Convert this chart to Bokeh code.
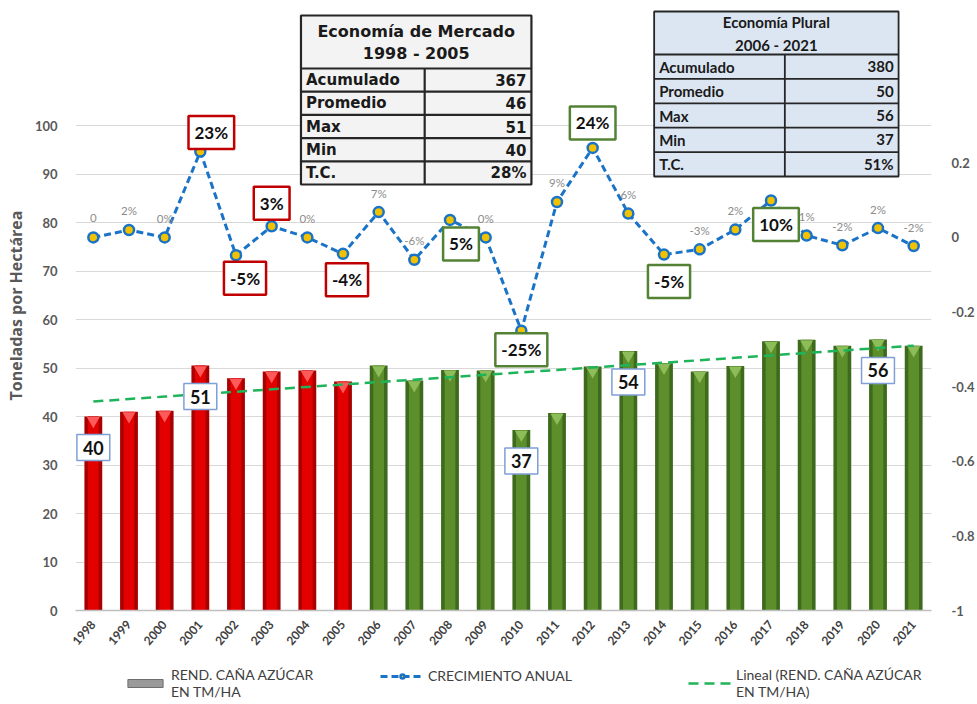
import numpy as np
from bokeh.plotting import figure
from bokeh.layouts import column
from bokeh.models import (Range1d, LinearAxis, FixedTicker, Label, LabelSet, ColumnDataSource,
                          Legend, LegendItem)
from bokeh.core.properties import value
from bokeh.embed import file_html
from bokeh.resources import INLINE

# ---------------- data ----------------
years = ["1998", "1999", "2000", "2001", "2002", "2003", "2004", "2005",
         "2006", "2007", "2008", "2009", "2010", "2011", "2012", "2013",
         "2014", "2015", "2016", "2017", "2018", "2019", "2020", "2021"]
rend = [40.0, 41.0, 41.2, 50.5, 47.9, 49.3, 49.5, 47.2,
        50.5, 47.4, 49.6, 49.5, 37.2, 40.7, 50.3, 53.5,
        51.0, 49.3, 50.4, 55.5, 55.8, 54.6, 55.9, 54.6]
growth = [0.0, 0.02, 0.0, 0.23, -0.048, 0.03, 0.0, -0.044,
          0.068, -0.06, 0.047, 0.0, -0.25, 0.095, 0.24, 0.064,
          -0.046, -0.032, 0.021, 0.099, 0.005, -0.021, 0.025, -0.023]
growth_text = ["0", "2%", "0%", "23%", "-5%", "3%", "0%", "-4%",
               "7%", "-6%", "5%", "0%", "-25%", "9%", "24%", "6%",
               "-5%", "-3%", "2%", "10%", "1%", "-2%", "2%", "-2%"]
period = ["mercado"] * 8 + ["plural"] * 16

# highlighted growth labels (boxed): index, x offset px, y offset px
boxed_idx = [3, 4, 5, 7, 10, 12, 14, 16, 19]
boxed_dx = [11, 9, 0, 4, 11, 0, 0, 5, 5]
boxed_dy = [19, -23, 23, -26, -24, -19, 25, -27, -24]
# highlighted bar values
value_idx = [0, 3, 12, 15, 22]
value_text = ["40", "51", "37", "54", "56"]

left_ticks = [0, 10, 20, 30, 40, 50, 60, 70, 80, 90, 100]
right_ticks = [-1.0, -0.8, -0.6, -0.4, -0.2, 0.0, 0.2]
right_tick_labels = ["-1", "-0.8", "-0.6", "-0.4", "-0.2", "0", "0.2"]

t1_title = ["Economía de Mercado", "1998 - 2005"]
t1_rows = ["Acumulado", "Promedio", "Max", "Min", "T.C."]
t1_vals = ["367", "46", "51", "40", "28%"]
t2_title = ["Economía Plural", "2006 - 2021"]
t2_rows = ["Acumulado", "Promedio", "Max", "Min", "T.C."]
t2_vals = ["380", "50", "56", "37", "51%"]

legend_labels = ["REND. CAÑA AZÚCAR\nEN TM/HA", "CRECIMIENTO ANUAL",
                 "Lineal (REND. CAÑA AZÚCAR\nEN TM/HA)"]

# ---------------- layout ----------------
W, H1, H2 = 977, 652, 50
FL, FR, FT, FB = 75, 933, 0, 610          # frame in canvas px
YTOP = (FB - FT) / 4.85
RSCALE = 0.013                            # right units per left unit

p = figure(width=W, height=H1, x_range=Range1d(-0.5, 23.5), y_range=Range1d(0, YTOP),
           output_backend="svg", toolbar_location=None,
           min_border_left=FL, min_border_right=W - FR, min_border_top=FT,
           min_border_bottom=H1 - FB)
p.outline_line_color = None
p.background_fill_color = "white"
p.extra_y_ranges = {"g": Range1d(-1, -1 + YTOP * RSCALE)}

# canvas px -> data helpers for annotation placement (tables)
def DX(px):
    return -0.5 + (px - FL) / (FR - FL) * 24.0

def DY(py):
    return (FB - py) / (FB - FT) * YTOP

# axes
p.xgrid.visible = False
p.ygrid.ticker = FixedTicker(ticks=left_ticks)
p.ygrid.grid_line_color = "#d9d9d9"
p.yaxis.ticker = FixedTicker(ticks=left_ticks)
p.yaxis.axis_line_color = None
p.yaxis.major_tick_line_color = None
p.yaxis.minor_tick_line_color = None
p.yaxis.major_label_text_font = "Lato"
p.yaxis.major_label_text_font_style = "bold"
p.yaxis.major_label_text_font_size = "13px"
p.yaxis.major_label_text_color = "#595959"
p.yaxis.major_label_standoff = 12
p.yaxis.axis_label = "Toneladas por Hectárea"
p.yaxis.axis_label_text_font = "Open Sans"
p.yaxis.axis_label_text_font_style = "bold"
p.yaxis.axis_label_text_font_size = "16px"
p.yaxis.axis_label_text_color = "#595959"
p.yaxis.axis_label_standoff = 5

p.xaxis.ticker = FixedTicker(ticks=list(range(len(years))))
p.xaxis.major_label_overrides = {i: y for i, y in enumerate(years)}
p.xaxis.major_label_orientation = 0.85
p.xaxis.axis_line_color = "#bfbfbf"
p.xaxis.axis_line_width = 1.5
p.xaxis.major_tick_line_color = None
p.xaxis.minor_tick_line_color = None
p.xaxis.major_label_text_font = "Lato"
p.xaxis.major_label_text_font_style = "bold"
p.xaxis.major_label_text_font_size = "12px"
p.xaxis.major_label_text_color = "#404040"
p.xaxis.major_label_standoff = 6

ry = LinearAxis(y_range_name="g", ticker=FixedTicker(ticks=right_ticks))
ry.major_label_overrides = {t: s for t, s in zip(right_ticks, right_tick_labels)}
ry.axis_line_color = None
ry.major_tick_line_color = None
ry.minor_tick_line_color = None
ry.major_label_text_font = "Lato"
ry.major_label_text_font_style = "bold"
ry.major_label_text_font_size = "13px"
ry.major_label_text_color = "#595959"
ry.major_label_standoff = 14
p.add_layout(ry, "right")

# ---------------- bars ----------------
edge = {"mercado": "#a80000", "plural": "#3d6a1c"}
main = {"mercado": "#e30000", "plural": "#5c8f2c"}
topc = {"mercado": "#ff5a5a", "plural": "#8dbd58"}
src = ColumnDataSource(dict(
    x=list(range(len(years))), top=rend,
    edge=[edge[k] for k in period], main=[main[k] for k in period],
    topc=[topc[k] for k in period],
    tri=[v - 0.9 for v in rend]))
p.vbar(x="x", top="top", width=0.5, source=src, fill_color="edge", line_color=None)
p.vbar(x="x", top="top", width=0.3, source=src, fill_color="main", line_color=None)
p.scatter(x="x", y="tri", source=src, marker="inverted_triangle", size=13,
          fill_color="topc", line_color=None)

# ---------------- trend ----------------
xi = np.arange(len(years))
k, b = np.polyfit(xi, np.array(rend), 1)
TREND = dict(line_color="#1fb35a", line_width=2.5, line_dash="10 6")
p.line(xi, k * xi + b, **TREND)

# ---------------- growth ----------------
GLINE = dict(line_color="#1a73c6", line_width=3, line_dash="7 4")
GMARK = dict(size=10, fill_color="#f2c200", line_color="#1a73c6", line_width=2.5)
gsrc = ColumnDataSource(dict(x=list(range(len(years))), g=growth, t=growth_text))
p.line("x", "g", source=gsrc, y_range_name="g", **GLINE)
p.scatter("x", "g", source=gsrc, y_range_name="g", **GMARK)

plain = [i for i in range(len(years)) if i not in boxed_idx]
psrc = ColumnDataSource(dict(x=plain, g=[growth[i] for i in plain],
                             t=[growth_text[i] for i in plain]))
p.add_layout(LabelSet(x="x", y="g", text="t", source=psrc, y_range_name="g",
                      y_offset=19, text_align="center", text_baseline="middle",
                      text_font=value("Lato"), text_font_size=value("11.5px"),
                      text_color="#8c8c8c"))

for i, dxo, dyo in zip(boxed_idx, boxed_dx, boxed_dy):
    col = "#c00000" if period[i] == "mercado" else "#548235"
    p.add_layout(Label(x=i, y=growth[i], y_range_name="g", text=growth_text[i],
                       x_offset=dxo, y_offset=dyo, text_align="center",
                       text_baseline="middle", text_font="Lato",
                       text_font_style="bold", text_font_size="17px",
                       text_color="#111111", background_fill_color="white",
                       border_line_color=col, border_line_width=2.5, padding=6))

for i, t in zip(value_idx, value_text):
    p.add_layout(Label(x=i, y=rend[i], text=t, y_offset=-31, text_align="center",
                       text_baseline="middle", text_font="Lato",
                       text_font_style="bold", text_font_size="18px",
                       text_color="#111111", background_fill_color="white",
                       border_line_color="#7f9fd8", border_line_width=1.5, padding=6))

# ---------------- tables ----------------
def draw_table(l, r, top, head_b, row_h, col, fill, lw, title, rows, vals,
               font, tsize, rsize, title_gap):
    n = len(rows)
    bot = head_b + n * row_h
    p.quad(left=[DX(l)], right=[DX(r)], top=[DY(top)], bottom=[DY(bot)],
           fill_color=fill, line_color="#262626", line_width=lw)
    xs, ys = [], []
    for j in range(n):
        yy = head_b + j * row_h
        xs.append([DX(l), DX(r)]); ys.append([DY(yy), DY(yy)])
    xs.append([DX(col), DX(col)]); ys.append([DY(head_b), DY(bot)])
    p.multi_line(xs, ys, line_color="#262626", line_width=lw)
    cx = DX((l + r) / 2)
    hmid = (top + head_b) / 2
    p.text(x=[cx, cx], y=[DY(hmid - title_gap / 2), DY(hmid + title_gap / 2)], text=title,
           text_align="center", text_baseline="middle", text_font=value(font),
           text_font_style="bold", text_font_size=tsize, text_color="#1a1a1a")
    ry_ = [DY(head_b + (j + 0.5) * row_h) for j in range(n)]
    p.text(x=[DX(l + 5)] * n, y=ry_, text=rows, text_align="left",
           text_baseline="middle", text_font=value(font), text_font_style="bold",
           text_font_size=rsize, text_color="#1a1a1a")
    p.text(x=[DX(r - 5)] * n, y=ry_, text=vals, text_align="right",
           text_baseline="middle", text_font=value(font), text_font_style="bold",
           text_font_size=rsize, text_color="#1a1a1a")

draw_table(301, 532, 15, 68, 23.2, 425, "#f3f3f3", 2.2, t1_title, t1_rows, t1_vals,
           "DejaVu Sans", "16px", "15px", 22)
draw_table(655, 900, 11, 54, 24.4, 786, "#dce6f2", 1.8, t2_title, t2_rows, t2_vals,
           "Lato", "15px", "15px", 23)

# ---------------- legend strip ----------------
# (its frame is aligned by the column layout with the main frame)
q = figure(width=W, height=H2, x_range=Range1d(0, 1), y_range=Range1d(0, 1),
           output_backend="svg", toolbar_location=None,
           x_axis_location=None, y_axis_location=None,
           min_border_left=0, min_border_right=0, min_border_top=0, min_border_bottom=0)
q.grid.visible = False
q.outline_line_color = None
nan = [float("nan")]
r_bar = q.vbar(x=nan, top=nan, width=0.5, fill_color="#9a9a9a", line_color="#6e6e6e")
r_gl = q.line(nan, nan, **GLINE)
r_gm = q.scatter(nan, nan, **GMARK)
r_tr = q.line(nan, nan, **TREND)

def add_legend(label, renderers, loc):
    lg = Legend(items=[LegendItem(label=label, renderers=renderers)], location=loc)
    lg.label_text_font = "Lato"
    lg.label_text_font_size = "14px"
    lg.label_text_color = "#404040"
    lg.glyph_width = 44
    lg.glyph_height = 10
    lg.label_standoff = 4
    lg.padding = 0
    lg.margin = 0
    lg.border_line_color = None
    lg.background_fill_alpha = 0
    q.add_layout(lg)

add_legend(legend_labels[0], [r_bar], (48, 2))
add_legend(legend_labels[1], [r_gl, r_gm], (305, 18))
add_legend(legend_labels[2], [r_tr], (613, 2))

open("out.html", "w").write(file_html(column(p, q, spacing=0), INLINE))
